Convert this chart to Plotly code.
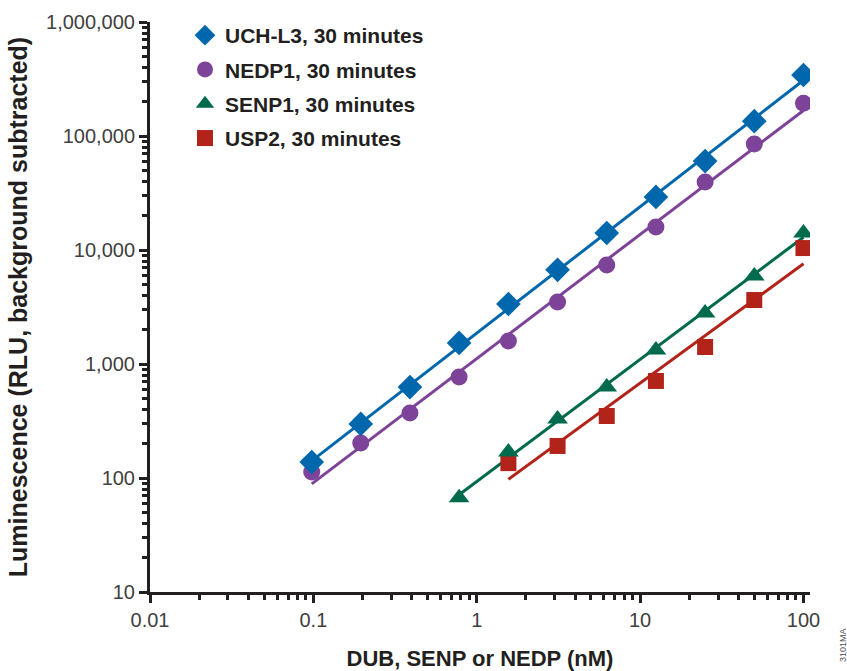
import numpy as np
import plotly.graph_objects as go

# ---- data ----
conc = [0.0977, 0.195, 0.39, 0.78, 1.5625, 3.125, 6.25, 12.5, 25, 50, 100]

uchl3_x = conc
uchl3_y = [138, 298, 628, 1530, 3360, 6700, 14100, 29200, 60300, 135000, 343000]

nedp1_x = conc
nedp1_y = [113, 203, 372, 769, 1590, 3500, 7390, 15900, 39500, 85100, 194000]

senp1_x = conc[3:]
senp1_y = [67, 169, 330, 628, 1330, 2800, 5920, 14100]

usp2_x = conc[4:]
usp2_y = [135, 191, 350, 710, 1410, 3640, 10400]

names = ["UCH-L3, 30 minutes", "NEDP1, 30 minutes", "SENP1, 30 minutes", "USP2, 30 minutes"]
colors = ["#0067AC", "#7D4398", "#006A4D", "#B2231A"]
symbols = ["diamond", "circle", "triangle-up", "square"]
sizes = [19, 17, 18, 16]

x_major = [0.01, 0.1, 1, 10, 100]
x_major_text = ["0.01", "0.1", "1", "10", "100"]
y_major = [10, 100, 1000, 10000, 100000, 1000000]
y_major_text = ["10", "100", "1,000", "10,000", "100,000", "1,000,000"]

series = [(uchl3_x, uchl3_y), (nedp1_x, nedp1_y), (senp1_x, senp1_y), (usp2_x, usp2_y)]

fig = go.Figure()

# fitted lines (log-log linear regression of the data)
for (xs, ys), c in zip(series, colors):
    lx, ly = np.log10(xs), np.log10(ys)
    k, b = np.polyfit(lx, ly, 1)
    fx = np.array([xs[0], xs[-1]])
    fy = 10 ** (k * np.log10(fx) + b)
    fig.add_trace(go.Scatter(x=fx, y=fy, mode="lines", line=dict(color=c, width=3),
                             showlegend=False, hoverinfo="skip"))

# markers (drawn above lines); USP2 under SENP1
order = [3, 2, 1, 0]
for i in order:
    xs, ys = series[i]
    fig.add_trace(go.Scatter(x=xs, y=ys, mode="markers", name="<b>" + names[i] + "</b>",
                             marker=dict(symbol=symbols[i], size=sizes[i], color=colors[i],
                                         line=dict(width=0)),
                             legendgroup="g%d" % i, legendrank=i + 1))

def minor_vals(lo, hi):
    out = []
    for d in range(lo, hi):
        for m in range(2, 10):
            out.append(m * 10 ** d)
    return out

W, H = 847, 671
ML, MR, MT, MB = 150, 37, 0, 79
PW, PH = W - ML - MR, H - MT - MB
TOP = 22  # pixel y of the top of the y axis

ink = "#231f20"
axis_font = dict(family="Liberation Sans, Arial, sans-serif", size=20, color="#404040")
xtitle_font = dict(family="Liberation Sans, Arial, sans-serif", size=22, color=ink)
ytitle_font = dict(family="Liberation Sans, Arial, sans-serif", size=25, color=ink)

fig.update_xaxes(type="log", range=[-2, 2.04], automargin=False,
                 tickmode="array", tickvals=x_major, ticktext=x_major_text,
                 ticks="outside", ticklen=8, tickwidth=3, tickcolor=ink,
                 minor=dict(tickmode="array", tickvals=minor_vals(-2, 2), ticks="outside",
                            ticklen=5, tickwidth=3, tickcolor=ink, showgrid=False),
                 showline=True, linecolor=ink, linewidth=3,
                 showgrid=False, zeroline=False, tickfont=axis_font,
                 title=dict(text="<b>DUB, SENP or NEDP (nM)</b>", font=xtitle_font, standoff=24))
fig.update_yaxes(type="log", range=[1, 6], automargin=False,
                 domain=[0, (PH - TOP) / PH],
                 tickmode="array", tickvals=y_major, ticktext=y_major_text,
                 ticks="outside", ticklen=8, tickwidth=3, tickcolor=ink,
                 minor=dict(tickmode="array", tickvals=minor_vals(1, 6), ticks="outside",
                            ticklen=5, tickwidth=3, tickcolor=ink, showgrid=False),
                 showline=True, linecolor=ink, linewidth=3,
                 showgrid=False, zeroline=False, tickfont=axis_font,
                 title=dict(text="<b>Luminescence (RLU, background subtracted)</b>",
                            font=ytitle_font, standoff=12))

fig.update_layout(
    width=W, height=H,
    margin=dict(l=ML, r=MR, t=MT, b=MB),
    plot_bgcolor="white", paper_bgcolor="white",
    legend=dict(x=(185 - ML) / PW, y=1 - 15 / PH, xanchor="left", yanchor="top",
                font=dict(family="Liberation Sans, Arial, sans-serif", size=21, color=ink),
                bgcolor="rgba(0,0,0,0)", tracegroupgap=4, itemwidth=30),
    annotations=[dict(text="3101MA", x=(843 - ML) / PW,
                      y=-(645 - (H - MB)) / PH, xref="paper", yref="paper",
                      xanchor="center", yanchor="middle",
                      showarrow=False, textangle=-90,
                      font=dict(family="Liberation Sans, sans-serif", size=9, color="#555"))],
)

fig.write_html("out.html")
